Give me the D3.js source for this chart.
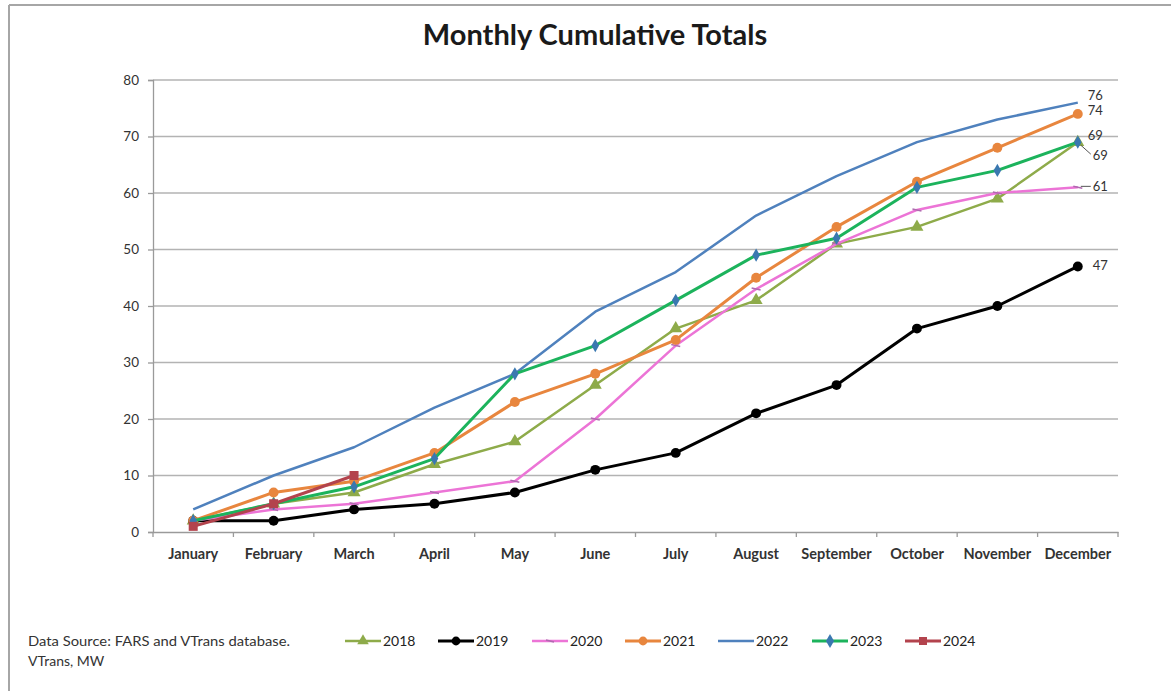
<!DOCTYPE html>
<html>
<head>
<meta charset="utf-8">
<script src="https://cdn.jsdelivr.net/npm/d3@7"></script>
<style>
  body { margin: 0; background: #fff; }
  text { font-family: Lato, "Open Sans", sans-serif; }
</style>
</head>
<body>
<div id="chart"></div>
<script>
const months = ["January", "February", "March", "April", "May", "June", "July",
  "August", "September", "October", "November", "December"];
const yTicks = [0, 10, 20, 30, 40, 50, 60, 70, 80];

const v2018 = [2, 5, 7, 12, 16, 26, 36, 41, 51, 54, 59, 69];
const v2019 = [2, 2, 4, 5, 7, 11, 14, 21, 26, 36, 40, 47];
const v2020 = [2, 4, 5, 7, 9, 20, 33, 43, 51, 57, 60, 61];
const v2021 = [2, 7, 9, 14, 23, 28, 34, 45, 54, 62, 68, 74];
const v2022 = [4, 10, 15, 22, 28, 39, 46, 56, 63, 69, 73, 76];
const v2023 = [2, 5, 8, 13, 28, 33, 41, 49, 52, 61, 64, 69];
const v2024 = [1, 5, 10];

const series = [
  { name: "2018", values: v2018, color: "#8eab4a", marker: "triangle", markerColor: "#8eab4a", width: 2.5, ms: 9 },
  { name: "2019", values: v2019, color: "#000000", marker: "circle", markerColor: "#000000", width: 3, ms: 9 },
  { name: "2020", values: v2020, color: "#ec74d6", marker: "dash", markerColor: "#b06ab0", width: 2.5, ms: 9 },
  { name: "2021", values: v2021, color: "#e8863e", marker: "circle", markerColor: "#e8863e", width: 3, ms: 9 },
  { name: "2022", values: v2022, color: "#4f81bd", marker: "none", markerColor: "#4f81bd", width: 2.5, ms: 9 },
  { name: "2023", values: v2023, color: "#1cb35c", marker: "diamond", markerColor: "#3a78b0", width: 3, ms: 7.5 },
  { name: "2024", values: v2024, color: "#b3434d", marker: "square", markerColor: "#b3434d", width: 3, ms: 9 }
];

// end labels (December) with their label offsets
const endLabels = [
  { name: "2022", text: "76", dx: 10, dy: -7 },
  { name: "2021", text: "74", dx: 10, dy: -3 },
  { name: "2023", text: "69", dx: 10, dy: -6, lead: false },
  { name: "2018", text: "69", dx: 15, dy: 14, lead: true },
  { name: "2020", text: "61", dx: 15, dy: 0, lead: true },
  { name: "2019", text: "47", dx: 15, dy: 0 }
];

const width = 1171, height = 691;
const svg = d3.select("#chart").append("svg")
  .attr("width", width).attr("height", height);

// frame edges
svg.append("line").attr("x1", 9).attr("x2", width).attr("y1", 5).attr("y2", 5)
  .attr("stroke", "#a6a6a6").attr("stroke-width", 2);
svg.append("line").attr("x1", 9).attr("x2", 9).attr("y1", 5).attr("y2", height)
  .attr("stroke", "#a6a6a6").attr("stroke-width", 2);

const x = d3.scaleBand().domain(months).range([153, 1118]).paddingInner(0).paddingOuter(0);
const cx = (m) => x(m) + x.bandwidth() / 2;
const y = d3.scaleLinear().domain([0, 80]).range([532, 80]);

svg.append("text")
  .attr("x", 595).attr("y", 45)
  .attr("text-anchor", "middle")
  .attr("font-size", 29).attr("font-weight", "bold").attr("fill", "#1a1a1a")
  .text("Monthly Cumulative Totals");

// gridlines
svg.append("g").selectAll("line").data(yTicks.filter(d => d > 0)).join("line")
  .attr("x1", 153).attr("x2", 1118)
  .attr("y1", d => y(d)).attr("y2", d => y(d))
  .attr("stroke", "#b3b3b3").attr("stroke-width", 1.3);

// y axis
const yAxis = svg.append("g").attr("transform", "translate(153,0)")
  .call(d3.axisLeft(y).tickValues(yTicks).tickSize(5).tickPadding(9));
yAxis.select(".domain").attr("stroke", "#9a9a9a").attr("stroke-width", 1.3);
yAxis.selectAll(".tick line").attr("stroke", "#9a9a9a").attr("stroke-width", 1.3);
yAxis.selectAll("text").attr("font-size", 13.5).attr("fill", "#333").attr("font-family", "Lato, sans-serif");

// x axis
const xAxis = svg.append("g").attr("transform", "translate(0,532)")
  .call(d3.axisBottom(x).tickSize(0).tickPadding(17).tickSizeOuter(0));
xAxis.select(".domain").attr("stroke", "#9a9a9a").attr("stroke-width", 1.3);
xAxis.selectAll("text").attr("font-size", 14.5).attr("font-weight", "bold")
  .attr("fill", "#333").attr("font-family", "Lato, sans-serif");
svg.append("g").selectAll("line").data(d3.range(months.length + 1)).join("line")
  .attr("x1", i => 153 + i * x.bandwidth()).attr("x2", i => 153 + i * x.bandwidth())
  .attr("y1", 532).attr("y2", 537)
  .attr("stroke", "#9a9a9a").attr("stroke-width", 1.3);

function drawMarker(g, type, px, py, color, s) {
  if (type === "circle") {
    g.append("circle").attr("cx", px).attr("cy", py).attr("r", s * 0.55).attr("fill", color);
  } else if (type === "triangle") {
    g.append("path").attr("d", d3.symbol(d3.symbolTriangle, s * s * 0.9)())
      .attr("transform", `translate(${px},${py})`).attr("fill", color);
  } else if (type === "diamond") {
    g.append("path").attr("d", d3.symbol(d3.symbolDiamond, s * s * 0.9)())
      .attr("transform", `translate(${px},${py})`).attr("fill", color);
  } else if (type === "square") {
    g.append("rect").attr("x", px - s / 2).attr("y", py - s / 2)
      .attr("width", s).attr("height", s).attr("fill", color);
  } else if (type === "dash") {
    g.append("line").attr("x1", px - s / 2).attr("x2", px + s / 2).attr("y1", py - 1).attr("y2", py + 1)
      .attr("stroke", color).attr("stroke-width", 1.5);
  }
}

const line = d3.line().x((d, i) => cx(months[i])).y(d => y(d));

const plot = svg.append("g");
series.forEach(s => {
  const g = plot.append("g");
  g.append("path").datum(s.values)
    .attr("d", line)
    .attr("fill", "none").attr("stroke", s.color)
    .attr("stroke-width", s.width).attr("stroke-linejoin", "round");
  s.values.forEach((v, i) => drawMarker(g, s.marker, cx(months[i]), y(v), s.markerColor, s.ms));
});

// December labels
const labG = svg.append("g");
endLabels.forEach(l => {
  const s = series.find(d => d.name === l.name);
  const last = s.values[s.values.length - 1];
  const px = cx(months[s.values.length - 1]), py = y(last);
  if (l.lead) {
    labG.append("line").attr("x1", px + 3).attr("y1", py + (l.dy > 5 ? 3 : -1))
      .attr("x2", px + l.dx - 2).attr("y2", py + l.dy - (l.dy > 5 ? 2 : 1))
      .attr("stroke", "#555").attr("stroke-width", 1);
  }
  labG.append("text").attr("x", px + l.dx).attr("y", py + l.dy + 4)
    .attr("font-size", 13).attr("fill", "#333").text(l.text);
});

// data source note
svg.append("text").attr("x", 28).attr("y", 646).attr("font-size", 14).attr("fill", "#333")
  .attr("textLength", 262).attr("lengthAdjust", "spacingAndGlyphs")
  .text("Data Source:  FARS and VTrans database.");
svg.append("text").attr("x", 28).attr("y", 666).attr("font-size", 14).attr("fill", "#333")
  .text("VTrans, MW");

// legend
const legendX = [345, 438, 532, 625, 718, 812, 905];
const leg = svg.append("g");
series.forEach((s, i) => {
  const lx = legendX[i], ly = 641;
  leg.append("line").attr("x1", lx).attr("x2", lx + 36).attr("y1", ly).attr("y2", ly)
    .attr("stroke", s.color).attr("stroke-width", s.width);
  drawMarker(leg, s.marker, lx + 18, ly, s.markerColor, 8);
  leg.append("text").attr("x", lx + 38).attr("y", ly + 5)
    .attr("font-size", 14).attr("fill", "#222").text(s.name);
});
</script>
</body>
</html>
